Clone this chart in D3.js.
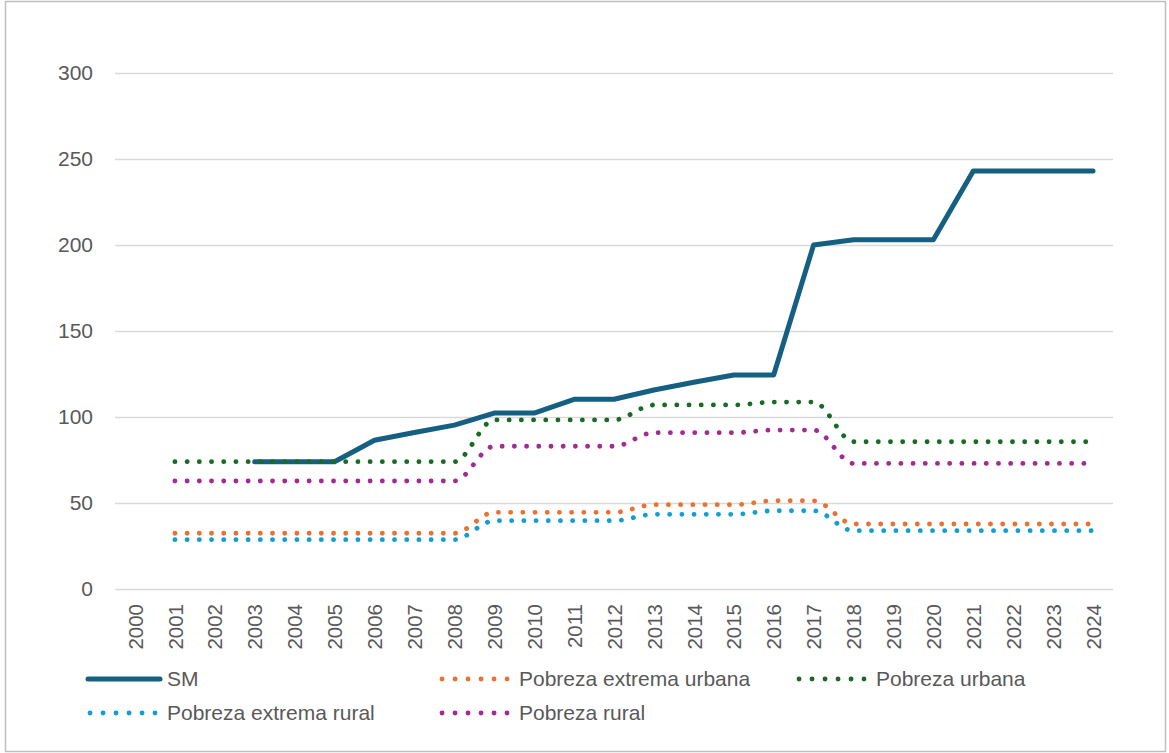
<!DOCTYPE html>
<html>
<head>
<meta charset="utf-8">
<script src="https://cdn.jsdelivr.net/npm/d3@7"></script>
<style>
  body { margin: 0; background: #fff; }
  text { font-family: "Liberation Sans", Arial, sans-serif; fill: #595959; }
</style>
</head>
<body>
<div id="chart"></div>
<script>
const years = d3.range(2000, 2025).map(String);

// values (null = no data)
const sm = [null, null, null, 74, 74, 74, 86.5, 91, 95.3, 102.3, 102.3, 110.3, 110.3, 115.7, 120.2, 124.4, 124.4, 200, 203, 203, 203, 243, 243, 243, 243];
const pobrezaExtremaUrbana = [null, 32.4, 32.4, 32.4, 32.4, 32.4, 32.4, 32.4, 32.4, 44.6, 44.6, 44.6, 44.6, 49, 49, 49, 51.3, 51.3, 37.8, 37.8, 37.8, 37.8, 37.8, 37.8, 37.8];
const pobrezaUrbana = [null, 74, 74, 74, 74, 74, 74, 74, 74, 98.3, 98.3, 98.3, 98.3, 107, 107, 107, 108.7, 108.7, 85.6, 85.6, 85.6, 85.6, 85.6, 85.6, 85.6];
const pobrezaExtremaRural = [null, 28.7, 28.7, 28.7, 28.7, 28.7, 28.7, 28.7, 28.7, 39.7, 39.7, 39.7, 39.7, 43.4, 43.4, 43.4, 45.5, 45.5, 33.9, 33.9, 33.9, 33.9, 33.9, 33.9, 33.9];
const pobrezaRural = [null, 62.8, 62.8, 62.8, 62.8, 62.8, 62.8, 62.8, 62.8, 83, 83, 83, 83, 90.9, 90.9, 90.9, 92.4, 92.4, 73, 73, 73, 73, 73, 73, 73];
const yTicks = [0, 50, 100, 150, 200, 250, 300];

const series = [
  { name: "SM", values: sm, color: "#156082", dotted: false },
  { name: "Pobreza extrema urbana", values: pobrezaExtremaUrbana, color: "#E97132", dotted: true },
  { name: "Pobreza urbana", values: pobrezaUrbana, color: "#196B24", dotted: true },
  { name: "Pobreza extrema rural", values: pobrezaExtremaRural, color: "#0F9ED5", dotted: true },
  { name: "Pobreza rural", values: pobrezaRural, color: "#A02B93", dotted: true }
];

const width = 1169, height = 753;
const plot = { left: 115, right: 1113, top: 73, bottom: 589 };

const svg = d3.select("#chart").append("svg")
  .attr("width", width)
  .attr("height", height);

svg.append("rect")
  .attr("x", 5.5).attr("y", 1.5)
  .attr("width", 1160).attr("height", 750)
  .attr("fill", "#fff")
  .attr("stroke", "#bfbfbf")
  .attr("stroke-width", 1.5);

const x = d3.scalePoint().domain(years).range([plot.left, plot.right]).padding(0.5);
const y = d3.scaleLinear().domain([0, 300]).range([plot.bottom, plot.top]);

// gridlines + y labels
const yAxis = svg.append("g")
  .attr("transform", `translate(${plot.left},0)`)
  .call(d3.axisLeft(y).tickValues(yTicks).tickSize(-(plot.right - plot.left)).tickPadding(22));
yAxis.select(".domain").remove();
yAxis.selectAll(".tick line").attr("stroke", "#d9d9d9").attr("stroke-width", 1.3);
yAxis.selectAll(".tick text").attr("font-size", 21).attr("fill", "#595959")
  .style("font-family", "'Liberation Sans', Arial, sans-serif");

// x labels (rotated)
const xAxis = svg.append("g")
  .attr("transform", `translate(0,${plot.bottom})`)
  .call(d3.axisBottom(x).tickSize(0));
xAxis.select(".domain").remove();
xAxis.selectAll(".tick text")
  .attr("font-size", 20.5)
  .attr("fill", "#595959")
  .style("font-family", "'Liberation Sans', Arial, sans-serif")
  .attr("text-anchor", "end")
  .attr("transform", "rotate(-90)")
  .attr("x", -15)
  .attr("y", 0)
  .attr("dy", "0.35em");

const straight = d3.line()
  .defined(d => d.v != null)
  .x(d => x(d.year))
  .y(d => y(d.v));

const smooth = d3.line()
  .defined(d => d.v != null)
  .x(d => x(d.year))
  .y(d => y(d.v))
  .curve(d3.curveMonotoneX);

series.forEach(s => {
  const pts = years.map((yr, i) => ({ year: yr, v: s.values[i] }));
  const p = svg.append("path")
    .datum(pts)
    .attr("fill", "none")
    .attr("stroke", s.color)
    .attr("stroke-linecap", "round")
    .attr("stroke-linejoin", "round");
  if (s.dotted) {
    p.attr("d", smooth)
      .attr("stroke-width", 4.8)
      .attr("stroke-dasharray", "0.1 12.1");
  } else {
    p.attr("d", straight)
      .attr("stroke-width", 5);
  }
});

// legend
const legendPos = [
  { x: 88, y: 679 }, { x: 440, y: 679 }, { x: 797, y: 679 },
  { x: 88, y: 713 }, { x: 440, y: 713 }
];
series.forEach((s, i) => {
  const g = svg.append("g").attr("transform", `translate(${legendPos[i].x},${legendPos[i].y})`);
  g.append("line")
    .attr("x1", s.dotted ? 2 : 0).attr("x2", s.dotted ? 67 : 72)
    .attr("y1", 0).attr("y2", 0)
    .attr("stroke", s.color)
    .attr("stroke-linecap", "round")
    .attr("stroke-width", s.dotted ? 4.8 : 5)
    .attr("stroke-dasharray", s.dotted ? "0.1 12.9" : null);
  g.append("text")
    .attr("x", s.dotted ? 79 : 79)
    .attr("y", 0)
    .attr("dy", "0.35em")
    .attr("font-size", 21)
    .text(s.name);
});
</script>
</body>
</html>
